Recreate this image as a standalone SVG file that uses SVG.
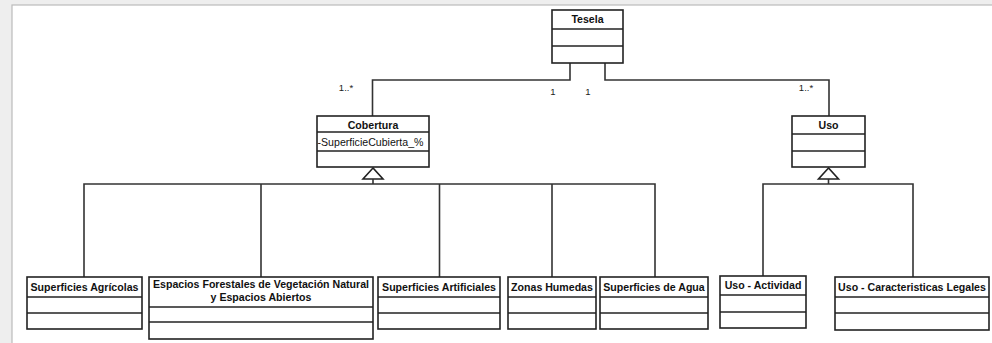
<svg xmlns="http://www.w3.org/2000/svg" width="992" height="343" viewBox="0 0 992 343">
<style>
.box{fill:#fff;stroke:#222;stroke-width:1.6}
.div{stroke:#222;stroke-width:1.6}
.t{font-family:"Liberation Sans",Arial,sans-serif;font-size:10.6px;font-weight:bold;fill:#111;text-anchor:middle}
.a{font-family:"Liberation Sans",Arial,sans-serif;font-size:10.6px;fill:#111}
.m{font-family:"Liberation Sans",Arial,sans-serif;font-size:9.5px;fill:#222;text-anchor:middle}
.c{fill:none;stroke:#333;stroke-width:1.6}
.tri{fill:#fff;stroke:#222;stroke-width:1.6}
</style>
<rect x="0" y="0" width="992" height="343" fill="#eeeeee"/>
<rect x="12" y="5" width="990" height="350" fill="#fff" stroke="#bbbbbb" stroke-width="1.2"/>
<g id="connectors">
<polyline class="c" points="570,63 570,80 372.5,80 372.5,116"/>
<polyline class="c" points="605,63 605,80 829,80 829,116"/>
<polygon class="tri" points="373,168 363,179 383,179"/>
<line class="c" x1="373" y1="179" x2="373" y2="184"/>
<polyline class="c" points="84,277 84,184 655,184 655,277"/>
<line class="c" x1="261" y1="184" x2="261" y2="277"/>
<line class="c" x1="439.5" y1="184" x2="439.5" y2="277"/>
<line class="c" x1="552" y1="184" x2="552" y2="277"/>
<polygon class="tri" points="828.5,168 818.5,179 838.5,179"/>
<line class="c" x1="828.5" y1="179" x2="828.5" y2="184"/>
<polyline class="c" points="763,276 763,184 913,184 913,277"/>
<text class="m" x="553" y="95">1</text>
<text class="m" x="588" y="95">1</text>
<text class="m" x="346" y="91">1..*</text>
<text class="m" x="806" y="91">1..*</text>
</g>
<g id="tesela">
<rect class="box" x="552" y="10" width="71" height="53"/>
<line class="div" x1="552" y1="29" x2="623" y2="29"/>
<line class="div" x1="552" y1="46" x2="623" y2="46"/>
<text class="t" x="587.5" y="23">Tesela</text>
</g>
<g id="cobertura">
<rect class="box" x="317" y="116" width="112" height="51"/>
<line class="div" x1="317" y1="132" x2="429" y2="132"/>
<line class="div" x1="317" y1="151" x2="429" y2="151"/>
<text class="t" x="373" y="128.5">Cobertura</text>
<text class="a" x="317.5" y="145.5">-SuperficieCubierta_%</text>
</g>
<g id="uso">
<rect class="box" x="792" y="116" width="73" height="51"/>
<line class="div" x1="792" y1="134" x2="865" y2="134"/>
<line class="div" x1="792" y1="151" x2="865" y2="151"/>
<text class="t" x="828.5" y="128.5">Uso</text>
</g>
<g id="agricolas">
<rect class="box" x="27" y="277" width="115" height="52"/>
<line class="div" x1="27" y1="297" x2="142" y2="297"/>
<line class="div" x1="27" y1="313" x2="142" y2="313"/>
<text class="t" x="84.5" y="290.5">Superficies Agrícolas</text>
</g>
<g id="forestales">
<rect class="box" x="149" y="277" width="224" height="62"/>
<line class="div" x1="149" y1="307" x2="373" y2="307"/>
<line class="div" x1="149" y1="322" x2="373" y2="322"/>
<text class="t" x="261" y="287.5">Espacios Forestales de Vegetación Natural</text>
<text class="t" x="261" y="301">y Espacios Abiertos</text>
</g>
<g id="artificiales">
<rect class="box" x="378" y="277" width="122" height="52"/>
<line class="div" x1="378" y1="297" x2="500" y2="297"/>
<line class="div" x1="378" y1="313" x2="500" y2="313"/>
<text class="t" x="439" y="290.5">Superficies Artificiales</text>
</g>
<g id="humedas">
<rect class="box" x="508" y="277" width="88" height="52"/>
<line class="div" x1="508" y1="297" x2="596" y2="297"/>
<line class="div" x1="508" y1="313" x2="596" y2="313"/>
<text class="t" x="552" y="290.5">Zonas Humedas</text>
</g>
<g id="agua">
<rect class="box" x="600" y="277" width="108" height="52"/>
<line class="div" x1="600" y1="297" x2="708" y2="297"/>
<line class="div" x1="600" y1="313" x2="708" y2="313"/>
<text class="t" x="654" y="290.5">Superficies de Agua</text>
</g>
<g id="actividad">
<rect class="box" x="720" y="276" width="86" height="52"/>
<line class="div" x1="720" y1="295" x2="806" y2="295"/>
<line class="div" x1="720" y1="312" x2="806" y2="312"/>
<text class="t" x="763" y="289">Uso - Actividad</text>
</g>
<g id="legales">
<rect class="box" x="835" y="277" width="154" height="53"/>
<line class="div" x1="835" y1="297" x2="989" y2="297"/>
<line class="div" x1="835" y1="313" x2="989" y2="313"/>
<text class="t" x="912" y="290.5">Uso - Caracteristicas Legales</text>
</g>
</svg>
